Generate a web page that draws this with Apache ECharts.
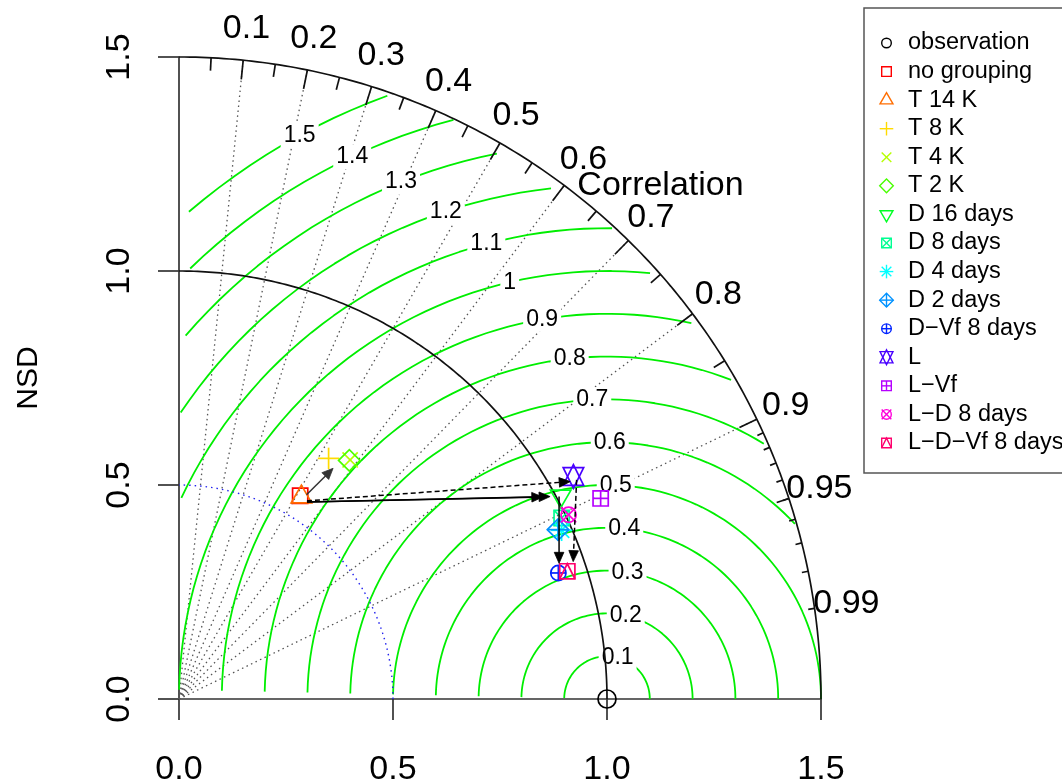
<!DOCTYPE html>
<html>
<head>
<meta charset="utf-8">
<title>Taylor diagram</title>
<script src="https://cdn.jsdelivr.net/npm/echarts@6.0.0/dist/echarts.min.js"></script>
<style>
html,body{margin:0;padding:0;background:#fff;}
#chart{width:1062px;height:783px;}
</style>
</head>
<body>
<div id="chart"></div>
<script>
// ---- model runs: normalised standard deviation (NSD) and correlation ----
const modelNames = ['observation','no grouping','T 14 K','T 8 K','T 4 K','T 2 K','D 16 days','D 8 days',
  'D 4 days','D 2 days','D\u2212Vf 8 days','L','L\u2212Vf','L\u2212D 8 days','L\u2212D\u2212Vf 8 days'];
const nsd  = [1.000, 0.553, 0.552, 0.662, 0.687, 0.685, 1.010, 0.989, 0.977, 0.970, 0.934, 1.058, 1.091, 1.007, 0.955];
const corr = [1.000, 0.512, 0.518, 0.528, 0.582, 0.581, 0.883, 0.904, 0.915, 0.913, 0.949, 0.871, 0.903, 0.904, 0.950];
const markerColors = ['#000000','#FF0000','#FF6D00','#FFDB00','#B6FF00','#49FF00','#00FF24','#00FF92',
  '#00FFFF','#0092FF','#0024FF','#4900FF','#B600FF','#FF00DB','#FF006D'];
const markerPch = [1,0,2,3,4,5,6,7,8,9,10,11,12,13,14];

// ---- arrows between configurations, in plane coordinates (x = NSD*R, y = NSD*sin) ----
const arrowStart = [[0.298,0.477],[0.299,0.460],[0.299,0.460],[0.299,0.463],[0.888,0.473],[0.929,0.512]];
const arrowEnd   = [[0.360,0.539],[0.867,0.473],[0.850,0.472],[0.914,0.508],[0.888,0.317],[0.921,0.321]];
const arrowDashed = [0,0,0,1,0,1];

// ---- diagram scaffolding ----
const maxRay = 1.5;
const refSd = 1.0;
const sdArc = 0.5;
const corrMajor  = [0.1,0.2,0.3,0.4,0.5,0.6,0.7,0.8,0.9];
const corrMedium = [0.05,0.15,0.25,0.35,0.45,0.55,0.65,0.75,0.85,0.95];
const corrMinor  = [0.91,0.92,0.93,0.94,0.95,0.96,0.97,0.98,0.99];
const corrLabels = [0.1,0.2,0.3,0.4,0.5,0.6,0.7,0.8,0.9,0.95,0.99];
const rmsLevels  = [0.1,0.2,0.3,0.4,0.5,0.6,0.7,0.8,0.9,1,1.1,1.2,1.3,1.4,1.5];

const FONT = '"Liberation Sans", Arial, Helvetica, sans-serif';

// plotting-symbol outlines (screen coordinates, y grows downward)
function pchShapes(pch, cx, cy, s, color, lw) {
  const st = {stroke: color, fill: 'none', lineWidth: lw};
  const out = [];
  const line = (x1, y1, x2, y2) => out.push({type: 'line', shape: {x1, y1, x2, y2}, style: st});
  const poly = pts => out.push({type: 'polygon', shape: {points: pts}, style: st});
  const circ = r => out.push({type: 'circle', shape: {cx, cy, r}, style: st});
  const sq = h => poly([[cx-h,cy-h],[cx+h,cy-h],[cx+h,cy+h],[cx-h,cy+h]]);
  const plus = h => { line(cx-h,cy,cx+h,cy); line(cx,cy-h,cx,cy+h); };
  const cross = h => { line(cx-h,cy-h,cx+h,cy+h); line(cx-h,cy+h,cx+h,cy-h); };
  const T0 = 1.5551, T1 = 1.3468, T2 = 0.7776;
  const d = Math.SQRT2 * s;
  switch (pch) {
    case 0: sq(s); break;
    case 1: circ(s); break;
    case 2: poly([[cx, cy-T0*s],[cx+T1*s, cy+T2*s],[cx-T1*s, cy+T2*s]]); break;
    case 3: plus(d); break;
    case 4: cross(s); break;
    case 5: poly([[cx-d,cy],[cx,cy-d],[cx+d,cy],[cx,cy+d]]); break;
    case 6: poly([[cx, cy+T0*s],[cx+T1*s, cy-T2*s],[cx-T1*s, cy-T2*s]]); break;
    case 7: sq(s); cross(s); break;
    case 8: cross(s); plus(d); break;
    case 9: poly([[cx-d,cy],[cx,cy-d],[cx+d,cy],[cx,cy+d]]); plus(d); break;
    case 10: circ(s); plus(s); break;
    case 11: {
      const yc = 0.5 * (T2 + T0) * s;
      poly([[cx, cy+T0*s],[cx+T1*s, cy-yc],[cx-T1*s, cy-yc]]);
      poly([[cx, cy-T0*s],[cx+T1*s, cy+yc],[cx-T1*s, cy+yc]]);
      break;
    }
    case 12: sq(s); plus(s); break;
    case 13: circ(s); cross(s); break;
    case 14: sq(s); out.push({type:'polyline', shape:{points:[[cx-s,cy+s],[cx,cy-s],[cx+s,cy+s]]}, style: st}); break;
  }
  return out;
}

// quarter arc of radius r around the origin
function quarterArc(r) {
  const pts = [];
  for (let k = 0; k <= 180; k++) {
    const a = k / 180 * Math.PI / 2;
    pts.push([r * Math.cos(a), r * Math.sin(a)]);
  }
  return pts;
}

// centred-RMS contour around the reference point, sampled every 0.03 rad
function rmsContour(g) {
  const xs = [], ys = [];
  for (let k = 0; k < 105; k++) {
    const t = k * 0.03;
    xs.push(refSd + g * Math.cos(t));
    ys.push(g * Math.sin(t));
  }
  let end = xs.findIndex(v => v < 0);
  end = end >= 0 ? end - 1 : 104;
  let start = 0;
  for (let k = 0; k < 105; k++) if (xs[k]*xs[k] + ys[k]*ys[k] > maxRay*maxRay) start = k + 1;
  const pts = [];
  for (let k = start; k <= end; k++) pts.push([xs[k], ys[k]]);
  return {pts, xs, ys};
}

const series = [];

// correlation rays
series.push({
  type: 'custom', coordinateSystem: 'cartesian2d', z: 1, clip: false, silent: true,
  data: corrMajor.map(c => [c * maxRay, Math.sqrt(1 - c*c) * maxRay]),
  renderItem(params, api) {
    const o = api.coord([0, 0]);
    const p = api.coord([api.value(0), api.value(1)]);
    return {type: 'line', shape: {x1: o[0], y1: o[1], x2: p[0], y2: p[1]},
      style: {stroke: '#555', lineWidth: 1.3, lineDash: [1.5, 3.5]}};
  }
});

// RMS contours
const labelData = [];
rmsLevels.forEach((g, i) => {
  const c = rmsContour(g);
  series.push({
    type: 'line', z: 2, clip: false, silent: true, symbol: 'none', animation: false,
    data: c.pts, lineStyle: {color: '#00EE00', width: 1.8}
  });
  const lp = Math.floor(45 + i * 25 / (rmsLevels.length - 1)) - 1;
  if (c.xs[lp] > 0) labelData.push([c.xs[lp], c.ys[lp], g]);
});
series.push({
  type: 'custom', coordinateSystem: 'cartesian2d', z: 3, clip: false, silent: true,
  data: labelData,
  renderItem(params, api) {
    const p = api.coord([api.value(0), api.value(1)]);
    return {type: 'text', x: p[0], y: p[1],
      style: {text: String(api.value(2)), font: '23px ' + FONT, fill: '#000',
        align: 'center', verticalAlign: 'middle', backgroundColor: '#fff', padding: [1, 3]}};
  }
});

// reference-SD arc, outer arc and the 0.5 arc
series.push({type: 'line', z: 4, clip: false, silent: true, symbol: 'none', animation: false,
  data: quarterArc(refSd), lineStyle: {color: '#111', width: 1.7}});
series.push({type: 'line', z: 4, clip: false, silent: true, symbol: 'none', animation: false,
  data: quarterArc(maxRay), lineStyle: {color: '#111', width: 1.7}});
series.push({type: 'line', z: 4, clip: false, silent: true, symbol: 'none', animation: false,
  data: quarterArc(sdArc), lineStyle: {color: '#2222EE', width: 1.4, type: [1.5, 4]}});

// correlation tick marks on the outer arc
const tickData = []
  .concat(corrMajor.map(c => [c, 0.97]))
  .concat(corrMedium.map(c => [c, 0.98]))
  .concat(corrMinor.map(c => [c, 0.99]));
series.push({
  type: 'custom', coordinateSystem: 'cartesian2d', z: 4, clip: false, silent: true,
  data: tickData,
  renderItem(params, api) {
    const c = api.value(0), f = api.value(1), sn = Math.sqrt(1 - c*c);
    const a = api.coord([c * maxRay, sn * maxRay]);
    const b = api.coord([c * maxRay * f, sn * maxRay * f]);
    return {type: 'line', shape: {x1: a[0], y1: a[1], x2: b[0], y2: b[1]},
      style: {stroke: '#111', lineWidth: 1.7}};
  }
});

// correlation labels and title
series.push({
  type: 'custom', coordinateSystem: 'cartesian2d', z: 4, clip: false, silent: true,
  data: corrLabels.map(c => [c * maxRay * 1.05, Math.sqrt(1 - c*c) * maxRay * 1.05, c]),
  renderItem(params, api) {
    const p = api.coord([api.value(0), api.value(1)]);
    return {type: 'text', x: p[0], y: p[1],
      style: {text: String(api.value(2)), font: '34px ' + FONT, fill: '#000',
        align: 'center', verticalAlign: 'middle'}};
  }
});
series.push({
  type: 'custom', coordinateSystem: 'cartesian2d', z: 4, clip: false, silent: true,
  data: [[maxRay * 0.75, maxRay * 0.8]],
  renderItem(params, api) {
    const p = api.coord([api.value(0), api.value(1)]);
    return {type: 'text', x: p[0], y: p[1],
      style: {text: 'Correlation', font: '34px ' + FONT, fill: '#000',
        align: 'center', verticalAlign: 'middle'}};
  }
});

// model points
series.push({
  type: 'custom', coordinateSystem: 'cartesian2d', z: 5, clip: false,
  data: nsd.map((s, i) => [s * corr[i], s * Math.sqrt(1 - corr[i]*corr[i]), i]),
  renderItem(params, api) {
    const i = api.value(2);
    const p = api.coord([api.value(0), api.value(1)]);
    const s = i === 0 ? 9 : 7.6;
    return {type: 'group', children: pchShapes(markerPch[i], p[0], p[1], s, markerColors[i], 1.7)};
  }
});

// arrows
series.push({
  type: 'custom', coordinateSystem: 'cartesian2d', z: 6, clip: false, silent: true,
  data: arrowStart.map((a, i) => [a[0], a[1], arrowEnd[i][0], arrowEnd[i][1], arrowDashed[i], i]),
  renderItem(params, api) {
    const p0 = api.coord([api.value(0), api.value(1)]);
    const p1 = api.coord([api.value(2), api.value(3)]);
    const dashed = api.value(4) === 1;
    const col = api.value(5) === 0 ? '#333' : '#000';
    const dx = p1[0] - p0[0], dy = p1[1] - p0[1];
    const L = Math.hypot(dx, dy), ux = dx / L, uy = dy / L;
    const hl = 11, hw = 4.8;
    const b = [p1[0] - ux * hl, p1[1] - uy * hl];
    return {type: 'group', children: [
      {type: 'line', shape: {x1: p0[0], y1: p0[1], x2: b[0] + ux * 2, y2: b[1] + uy * 2},
        style: {stroke: col, lineWidth: 1.5, lineDash: dashed ? [5, 3] : null}},
      {type: 'polygon', shape: {points: [p1, [b[0] - uy * hw, b[1] + ux * hw], [b[0] + uy * hw, b[1] - ux * hw]]},
        style: {fill: col, stroke: col, lineWidth: 0.8}}
    ]};
  }
});

// legend box
const legendChildren = [{type: 'rect', shape: {x: 864, y: 8, width: 240, height: 465},
  style: {fill: '#fff', stroke: '#555', lineWidth: 1.5}}];
modelNames.forEach((n, i) => {
  const y = 43 + i * 28.57;
  pchShapes(markerPch[i], 886.5, y, 4.8, markerColors[i], 1.4).forEach(e => legendChildren.push(e));
  legendChildren.push({type: 'text', x: 908, y: y,
    style: {text: n, font: '23.5px ' + FONT, fill: '#000', verticalAlign: 'middle'}});
});

const axisCommon = {
  type: 'value', min: 0, max: maxRay, interval: 0.5,
  axisLine: {show: true, onZero: false, lineStyle: {color: '#333', width: 1.7}},
  axisTick: {show: true, inside: false, length: 21, lineStyle: {color: '#333', width: 1.7}},
  splitLine: {show: false},
  axisLabel: {fontSize: 34, fontFamily: FONT, color: '#000', formatter: v => v.toFixed(1)}
};

const option = {
  animation: false,
  backgroundColor: '#fff',
  grid: {left: 179, top: 57, width: 642, height: 642, containLabel: false, outerBoundsMode: 'none'},
  xAxis: Object.assign({}, axisCommon, {axisLabel: Object.assign({}, axisCommon.axisLabel, {margin: 54})}),
  yAxis: Object.assign({}, axisCommon, {
    axisLabel: Object.assign({}, axisCommon.axisLabel, {margin: 42, rotate: 90}),
    name: 'NSD', nameLocation: 'middle', nameRotate: 90, nameGap: 135,
    nameTextStyle: {fontSize: 30, fontFamily: FONT, color: '#000'}
  }),
  series: series,
  graphic: [{type: 'group', children: legendChildren}]
};

const chart = echarts.init(document.getElementById('chart'), null, {renderer: 'canvas'});
chart.setOption(option);
</script>
</body>
</html>
